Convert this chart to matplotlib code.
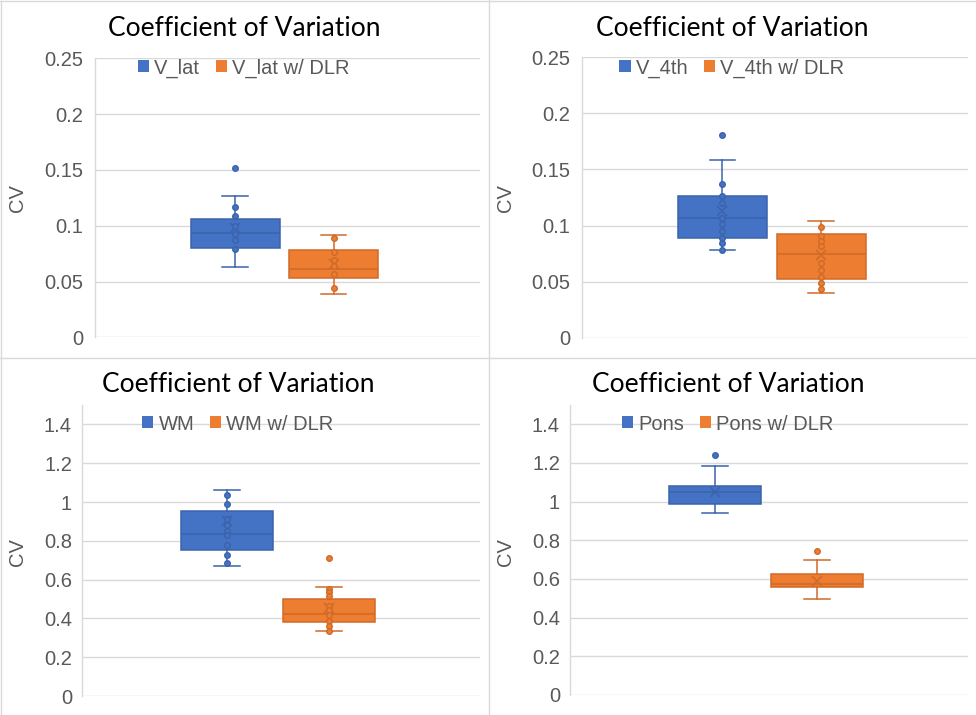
import matplotlib
matplotlib.use('Agg')
import matplotlib.pyplot as plt
from matplotlib.patches import Patch
from matplotlib.lines import Line2D

W, H = 976, 715

BLUE = '#4472C4'
ORANGE = '#ED7D31'
BLUE_EDGE = '#3B63AB'
ORANGE_EDGE = '#CF6A29'
GRID = '#D9D9D9'
TEXT = '#595959'

title_text = "Coefficient of Variation"
y_label = "CV"

# ---- data: [lower whisker, Q1, median, Q3, upper whisker] ----
vlat_box = [0.063, 0.080, 0.094, 0.106, 0.127]
vlat_mean = 0.098
vlat_points = [0.117, 0.109, 0.100, 0.093, 0.087, 0.079]
vlat_outliers = [0.152]

vlat_dlr_box = [0.039, 0.053, 0.061, 0.078, 0.092]
vlat_dlr_mean = 0.066
vlat_dlr_points = [0.089, 0.077, 0.069, 0.064, 0.057, 0.044]
vlat_dlr_outliers = []

v4th_box = [0.078, 0.089, 0.107, 0.126, 0.158]
v4th_mean = 0.113
v4th_points = [0.137, 0.126, 0.120, 0.107, 0.101, 0.095, 0.089, 0.084, 0.078]
v4th_outliers = [0.181]

v4th_dlr_box = [0.040, 0.052, 0.075, 0.0925, 0.104]
v4th_dlr_mean = 0.074
v4th_dlr_points = [0.099, 0.091, 0.0865, 0.082, 0.067, 0.0605, 0.0545, 0.0486, 0.0432]
v4th_dlr_outliers = []

wm_box = [0.669, 0.754, 0.837, 0.953, 1.063]
wm_mean = 0.90
wm_points = [1.034, 0.988, 0.914, 0.880, 0.849, 0.828, 0.777, 0.729, 0.683]
wm_outliers = []

wm_dlr_box = [0.333, 0.381, 0.425, 0.501, 0.564]
wm_dlr_mean = 0.455
wm_dlr_points = [0.554, 0.537, 0.514, 0.463, 0.442, 0.417, 0.388, 0.360, 0.336]
wm_dlr_outliers = [0.711]

pons_box = [0.943, 0.986, 1.048, 1.082, 1.187]
pons_mean = 1.051
pons_points = []
pons_outliers = [1.243]

pons_dlr_box = [0.499, 0.557, 0.574, 0.628, 0.700]
pons_dlr_mean = 0.588
pons_dlr_points = []
pons_dlr_outliers = [0.744]

series_names = [["V_lat", "V_lat w/ DLR"],
                ["V_4th", "V_4th w/ DLR"],
                ["WM", "WM w/ DLR"],
                ["Pons", "Pons w/ DLR"]]

small_ticks = [0, 0.05, 0.1, 0.15, 0.2, 0.25]
small_labels = ["0", "0.05", "0.1", "0.15", "0.2", "0.25"]
large_ticks = [0, 0.2, 0.4, 0.6, 0.8, 1.0, 1.2, 1.4]
large_labels = ["0", "0.2", "0.4", "0.6", "0.8", "1", "1.2", "1.4"]

panels = [
    dict(rect=(95, 58.3, 480, 337.5), ylim=(0, 0.25), ticks=small_ticks, labels=small_labels,
         series=[(vlat_box, vlat_mean, vlat_points, vlat_outliers),
                 (vlat_dlr_box, vlat_dlr_mean, vlat_dlr_points, vlat_dlr_outliers)],
         names=series_names[0], cx=244, title_y=29, leg_y=68, cv=(17.5, 198), pad=8.5),
    dict(rect=(581.7, 57.3, 968, 337.7), ylim=(0, 0.25), ticks=small_ticks, labels=small_labels,
         series=[(v4th_box, v4th_mean, v4th_points, v4th_outliers),
                 (v4th_dlr_box, v4th_dlr_mean, v4th_dlr_points, v4th_dlr_outliers)],
         names=series_names[1], cx=732, title_y=29, leg_y=68, cv=(505.5, 198), pad=8.5),
    dict(rect=(81.7, 405, 480, 696), ylim=(0, 1.5), ticks=large_ticks, labels=large_labels,
         series=[(wm_box, wm_mean, wm_points, wm_outliers),
                 (wm_dlr_box, wm_dlr_mean, wm_dlr_points, wm_dlr_outliers)],
         names=series_names[2], cx=238, title_y=385, leg_y=424, cv=(17.5, 552), pad=7),
    dict(rect=(569.7, 405, 968, 695), ylim=(0, 1.5), ticks=large_ticks, labels=large_labels,
         series=[(pons_box, pons_mean, pons_points, pons_outliers),
                 (pons_dlr_box, pons_dlr_mean, pons_dlr_points, pons_dlr_outliers)],
         names=series_names[3], cx=728, title_y=385, leg_y=424, cv=(505.5, 552), pad=7),
]

positions = [0.364, 0.62]
colors = [(BLUE, BLUE_EDGE), (ORANGE, ORANGE_EDGE)]

plt.rcParams['font.family'] = ['Liberation Sans', 'DejaVu Sans']

fig = plt.figure(figsize=(W / 100, H / 100), dpi=100)
fig.patch.set_facecolor('white')

for p in panels:
    l, t, r, b = p['rect']
    ax = fig.add_axes([l / W, (H - b) / H, (r - l) / W, (b - t) / H])

    for (box, mean, pts, outl), pos, (fc, ec) in zip(p['series'], positions, colors):
        stats = dict(whislo=box[0], q1=box[1], med=box[2], q3=box[3], whishi=box[4],
                     mean=mean, fliers=outl)
        ax.bxp([stats], positions=[pos], widths=0.231, capwidths=0.066,
               patch_artist=True, showmeans=True, showfliers=True, manage_ticks=False,
               boxprops=dict(facecolor=fc, edgecolor=ec, linewidth=1.1),
               whiskerprops=dict(color=ec, linewidth=1.1),
               capprops=dict(color=ec, linewidth=1.1),
               medianprops=dict(color=ec, linewidth=1.1),
               meanprops=dict(marker='x', markeredgecolor=ec, markersize=7, markeredgewidth=1.1),
               flierprops=dict(marker='o', markerfacecolor=fc, markeredgecolor=ec,
                               markersize=4, linestyle='none'))
        if pts:
            ax.plot([pos] * len(pts), pts, linestyle='none', marker='o', markersize=4,
                    markerfacecolor=fc, markeredgecolor=ec, markeredgewidth=1.0, zorder=4)

    ax.set_xlim(0, 1)
    ax.set_ylim(*p['ylim'])
    ax.set_yticks(p['ticks'])
    ax.set_yticklabels(p['labels'])
    ax.set_xticks([])
    ax.tick_params(axis='y', length=0, pad=p['pad'], labelsize=14.5, labelcolor=TEXT)
    for s in ['top', 'right', 'bottom']:
        ax.spines[s].set_visible(False)
    ax.spines['left'].set_color(GRID)
    ax.spines['left'].set_linewidth(1.0)
    ax.grid(axis='y', color=GRID, linewidth=1.0)
    ax.set_axisbelow(True)

    fig.text(p['cx'] / W, 1 - p['title_y'] / H, title_text, ha='center', va='center',
             fontsize=19, family=['Lato', 'DejaVu Sans'], color='black')
    fig.text(p['cv'][0] / W, 1 - p['cv'][1] / H, y_label, rotation=90, ha='center',
             va='center', fontsize=14.5, color=TEXT)
    handles = [Patch(facecolor=BLUE, edgecolor='none', label=p['names'][0]),
               Patch(facecolor=ORANGE, edgecolor='none', label=p['names'][1])]
    fig.legend(handles=handles, loc='center', bbox_to_anchor=(p['cx'] / W, 1 - p['leg_y'] / H),
               ncol=2, frameon=False, fontsize=14.5, handlelength=0.55, handleheight=0.55,
               handletextpad=0.25, columnspacing=0.8, borderaxespad=0, labelcolor=TEXT)

# panel borders
for (x0, y0, x1, y1) in [(1, 1, 1, 715), (0, 1, 976, 1), (488.5, 0, 488.5, 715), (0, 357.5, 976, 357.5)]:
    fig.add_artist(Line2D([x0 / W, x1 / W], [1 - y0 / H, 1 - y1 / H], color=GRID, linewidth=1.0))

fig.savefig('out.png', dpi=100)
